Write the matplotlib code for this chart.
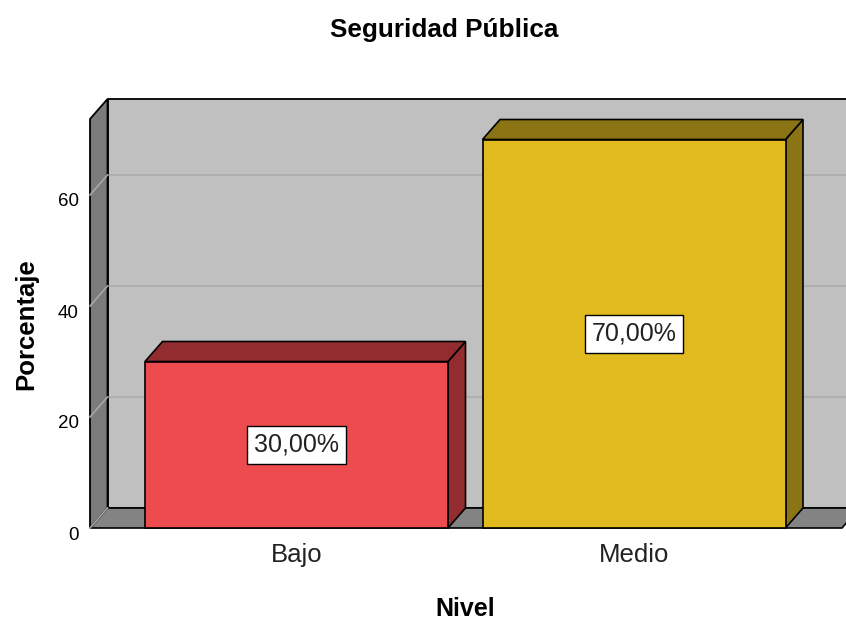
import matplotlib
matplotlib.use("Agg")
import matplotlib.pyplot as plt
from matplotlib.patches import Polygon, Rectangle
from matplotlib.transforms import ScaledTranslation

plt.rcParams['font.family'] = ['Liberation Sans', 'DejaVu Sans']

# ---- data ----
categories = ["Bajo", "Medio"]
percentages = [30.0, 70.0]
yticks = [0, 20, 40, 60]
title = "Seguridad Pública"
xlabel = "Nivel"
ylabel = "Porcentaje"

front_colors = ["#ED4B4E", "#E0BA1F"]
dark_colors = ["#932C2E", "#8B7414"]

W, H = 846, 620
fig = plt.figure(figsize=(W / 100, H / 100), dpi=100)
ax = fig.add_axes([90 / W, (H - 528) / H, 752 / W, 409 / H])
px_per_unit_y = 5.55
px_per_unit_x = 337.5
xmin, xmax = -206.5 / px_per_unit_x, 1 + 208 / px_per_unit_x
ymax = 409 / px_per_unit_y
ax.set_xlim(xmin, xmax)
ax.set_ylim(0, ymax)
ax.patch.set_visible(False)
for s in ax.spines.values():
    s.set_visible(False)

DX = 17.5 / px_per_unit_x
DY = 20 / px_per_unit_y
bar_w = 303 / px_per_unit_x

def poly(pts, fc, ec="black", lw=1.2, z=1):
    p = Polygon(pts, closed=True, facecolor=fc, edgecolor=ec, linewidth=lw,
                zorder=z, clip_on=False, joinstyle="miter")
    ax.add_patch(p)
    return p

# back wall
poly([(xmin + DX, DY), (xmax + DX, DY), (xmax + DX, ymax + DY), (xmin + DX, ymax + DY)],
     "#C0C0C0", lw=1.3, z=1)
# gridlines on back wall
for t in yticks[1:]:
    ax.plot([xmin + DX, xmax + DX], [t + DY, t + DY], color="#ACACAC", lw=1.2,
            zorder=1.5, clip_on=False)
# floor
poly([(xmin, 0), (xmax, 0), (xmax + DX, DY), (xmin + DX, DY)], "#838383", lw=1.2, z=2)
# left wall
poly([(xmin, 0), (xmin + DX, DY), (xmin + DX, ymax + DY), (xmin, ymax)], "#7B7B7B", lw=1.3, z=2.2)
# diagonal grid on left wall
for t in yticks:
    ax.plot([xmin, xmin + DX], [t, t + DY], color="#A8A8A8", lw=1.2,
            zorder=2.5, clip_on=False)

# bars
for i, (v, fc, dc) in enumerate(zip(percentages, front_colors, dark_colors)):
    x0, x1 = i - bar_w / 2, i + bar_w / 2
    poly([(x1, 0), (x1 + DX, DY), (x1 + DX, v + DY), (x1, v)], dc, z=3)
    poly([(x0, v), (x1, v), (x1 + DX, v + DY), (x0 + DX, v + DY)], dc, z=3)
    ax.add_patch(Rectangle((x0, 0), bar_w, v, facecolor=fc, edgecolor="black",
                           linewidth=1.2, zorder=4, clip_on=False))
    label = f"{v:.2f}".replace(".", ",") + "%"
    ax.text(i, v / 2, label, ha="center", va="center", fontsize=18, color="#222222",
            zorder=10,
            bbox=dict(boxstyle="square,pad=0.28", facecolor="white",
                      edgecolor="black", linewidth=1.0))

# ticks
ax.set_yticks(yticks)
ax.set_yticklabels([str(t) for t in yticks], fontsize=13.5)
ax.tick_params(axis="y", length=0, pad=8)
for lab in ax.get_yticklabels():
    lab.set_transform(lab.get_transform() + ScaledTranslation(0, -5 / 100, fig.dpi_scale_trans))
ax.set_xticks(range(len(categories)))
ax.set_xticklabels(categories, fontsize=18.5, color="#222222")
ax.tick_params(axis="x", length=0, pad=11)

fig.text(444 / W, (H - 37) / H, title, ha="center", va="baseline",
         fontsize=18.8, fontweight="bold")
fig.text(465 / W, (H - 616) / H, xlabel, ha="center", va="baseline",
         fontsize=18, fontweight="bold")
fig.text(26 / W, (H - 324) / H, ylabel, ha="center", va="center", rotation=90,
         fontsize=18.5, fontweight="bold")

fig.savefig("out.png", dpi=100)
